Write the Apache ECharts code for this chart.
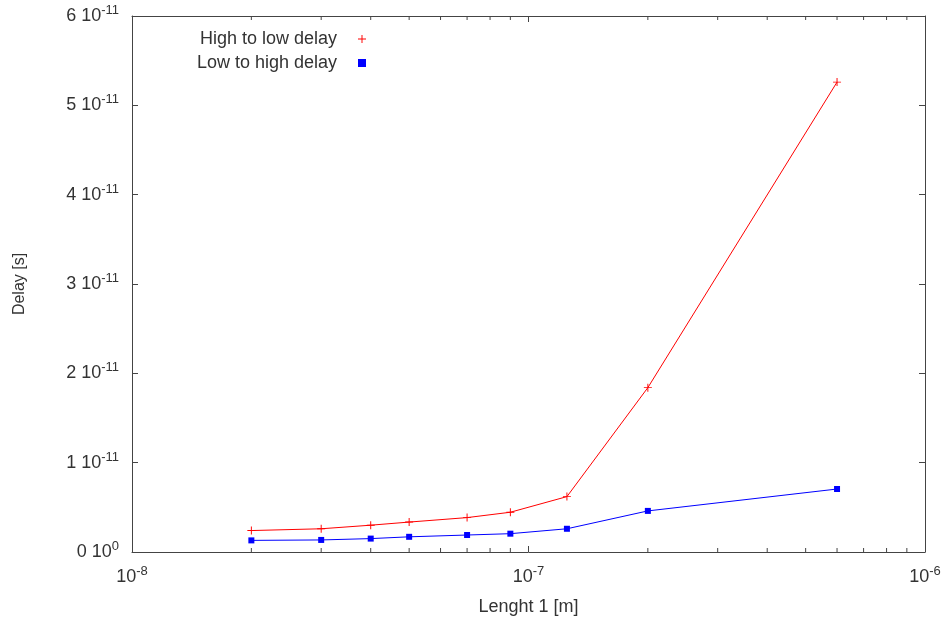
<!DOCTYPE html>
<html>
  <head>
    <meta charset="UTF-8" />
    <title>Delay vs length</title>
    <style>
      * {
        margin: 0;
        padding: 0;
      }
    </style>
  </head>
  <body>
    <div id="main" style="width: 947px; height: 625px;"></div>
    <script src="https://cdn.jsdelivr.net/npm/echarts@6/dist/echarts.min.js"></script>
    <script>
      // lengths [m]
      let lengths = [2e-8, 3e-8, 4e-8, 5e-8, 7e-8, 9e-8, 1.25e-7, 2e-7, 6e-7];
      // delays [s]
      let highToLow = [2.4e-12, 2.6e-12, 3.0e-12, 3.35e-12, 3.85e-12, 4.45e-12, 6.2e-12, 1.84e-11, 5.26e-11];
      let lowToHigh = [1.3e-12, 1.35e-12, 1.5e-12, 1.7e-12, 1.9e-12, 2.05e-12, 2.6e-12, 4.6e-12, 7.05e-12];
      // minor ticks on the log axis
      let minorTicks = [2e-8, 3e-8, 4e-8, 5e-8, 6e-8, 7e-8, 8e-8, 9e-8,
        2e-7, 3e-7, 4e-7, 5e-7, 6e-7, 7e-7, 8e-7, 9e-7];

      let yMax = 6e-11;
      let axisColor = "#444";
      let textColor = "#333";
      let plusIcon = "path://M4.4,0H5.6V4.4H10V5.6H5.6V10H4.4V5.6H0V4.4H4.4Z";

      function pair(xs, ys) {
        let res = [];
        for (let i = 0; i < xs.length; i++) res.push([xs[i], ys[i]]);
        return res;
      }

      let rich = {
        b: { fontSize: 18, color: textColor, fontFamily: "Liberation Sans" },
        s: { fontSize: 13, color: textColor, fontFamily: "Liberation Sans", padding: [0, 0, 11, 0] },
      };

      function draw() {
        let myEcharts = echarts.init(document.getElementById("main"));
        let option = {
          backgroundColor: "#fff",
          animation: false,
          textStyle: { fontFamily: "Liberation Sans" },
          grid: { left: 132, right: 22, top: 16, bottom: 73, containLabel: false },
          legend: {
            orient: "vertical",
            right: 576,
            top: 24,
            align: "right",
            itemWidth: 8,
            itemHeight: 8,
            itemGap: 4,
            textStyle: { fontSize: 18, color: textColor, lineHeight: 20, padding: [0, 16, 0, 0] },
            data: [
              { name: "High to low delay", icon: plusIcon },
              { name: "Low to high delay", icon: "rect" },
            ],
          },
          xAxis: [
            {
              type: "log",
              logBase: 10,
              min: 1e-8,
              max: 1e-6,
              name: "Lenght 1 [m]",
              nameLocation: "middle",
              nameGap: 46,
              nameTextStyle: { fontSize: 18, color: textColor },
              axisLine: { onZero: false, lineStyle: { color: axisColor, width: 1 } },
              axisTick: { inside: true, length: 6, lineStyle: { color: axisColor } },
              splitLine: { show: false },
              axisLabel: {
                margin: 13,
                formatter: function (v) {
                  return "{b|10}{s|" + Math.round(Math.log10(v)) + "}";
                },
                rich: rich,
              },
            },
            {
              type: "log",
              logBase: 10,
              min: 1e-8,
              max: 1e-6,
              position: "top",
              axisLine: { onZero: false, lineStyle: { color: axisColor, width: 1 } },
              axisTick: { inside: true, length: 6, lineStyle: { color: axisColor } },
              axisLabel: { show: false },
              splitLine: { show: false },
            },
          ],
          yAxis: [
            {
              type: "value",
              min: 0,
              max: yMax,
              interval: 1e-11,
              name: "Delay [s]",
              nameLocation: "middle",
              nameGap: 104,
              nameTextStyle: { fontSize: 16, color: textColor },
              axisLine: { show: true, onZero: false, lineStyle: { color: axisColor, width: 1 } },
              axisTick: { show: true, inside: true, length: 6, lineStyle: { color: axisColor } },
              splitLine: { show: false },
              axisLabel: {
                margin: 13,
                formatter: function (v) {
                  let n = Math.round(v / 1e-11);
                  if (n === 0) return "{b|0 10}{s|0}";
                  return "{b|" + n + " 10}{s|-11}";
                },
                rich: rich,
              },
            },
            {
              type: "value",
              min: 0,
              max: yMax,
              interval: 1e-11,
              position: "right",
              axisLine: { show: true, onZero: false, lineStyle: { color: axisColor, width: 1 } },
              axisTick: { show: true, inside: true, length: 6, lineStyle: { color: axisColor } },
              axisLabel: { show: false },
              splitLine: { show: false },
            },
          ],
          series: [
            {
              name: "High to low delay",
              type: "line",
              data: pair(lengths, highToLow),
              symbol: plusIcon,
              symbolSize: 8,
              showAllSymbol: true,
              color: "#ff0000",
              lineStyle: { color: "#ff0000", width: 1 },
              itemStyle: { color: "#ff0000" },
              z: 3,
            },
            {
              name: "Low to high delay",
              type: "line",
              data: pair(lengths, lowToHigh),
              symbol: "rect",
              symbolSize: 6,
              showAllSymbol: true,
              color: "#0000ff",
              lineStyle: { color: "#0000ff", width: 1 },
              itemStyle: { color: "#0000ff" },
              z: 3,
            },
            {
              // minor ticks of the log axis, bottom and top
              type: "custom",
              silent: true,
              data: minorTicks.map(function (v) { return [v, 0]; }),
              encode: { x: 0, y: 1 },
              renderItem: function (params, api) {
                let x = api.value(0);
                let b = api.coord([x, 0]);
                let t = api.coord([x, yMax]);
                let st = { stroke: axisColor, lineWidth: 1 };
                return {
                  type: "group",
                  children: [
                    { type: "line", shape: { x1: b[0], y1: b[1], x2: b[0], y2: b[1] - 4 }, style: st },
                    { type: "line", shape: { x1: t[0], y1: t[1], x2: t[0], y2: t[1] + 4 }, style: st },
                  ],
                };
              },
            },
          ],
        };
        myEcharts.setOption(option);
      }
      draw();
    </script>
  </body>
</html>
